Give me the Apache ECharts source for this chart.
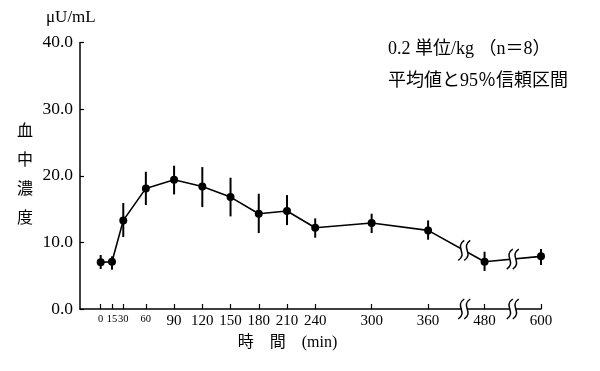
<!DOCTYPE html>
<html><head><meta charset="utf-8">
<script src="https://cdn.jsdelivr.net/npm/echarts@6/dist/echarts.min.js"></script>
<style>html,body{margin:0;padding:0;background:#fff}#c{width:600px;height:371px}</style>
</head><body><div id="c"></div>
<script>
// ---- data ----
const times = [0, 15, 30, 60, 90, 120, 150, 180, 210, 240, 300, 360, 480, 600];
const meanValues = [7.0, 7.1, 13.3, 18.1, 19.4, 18.4, 16.8, 14.3, 14.7, 12.2, 12.9, 11.8, 7.1, 7.9];
const ciLower = [6.0, 5.9, 10.8, 15.6, 17.2, 15.3, 13.9, 11.4, 12.6, 10.7, 11.4, 10.4, 5.7, 6.6];
const ciUpper = [8.1, 7.9, 15.9, 20.6, 21.5, 21.3, 19.7, 17.3, 17.1, 13.6, 14.3, 13.3, 8.6, 9.0];
const xTickLabels = ['0', '15', '30', '60', '90', '120', '150', '180', '210', '240', '300', '360', '480', '600'];
const smallLabels = ['0', '15', '30', '60'];
const yTicks = [0, 10, 20, 30, 40];

// broken time axis: first hour drawn compressed, two 60-min gaps removed after 360 and 480
function toAxis(t) {
  let a = t <= 60 ? t * 0.8 : t - 12;
  if (t > 360) a -= 60;
  if (t > 480) a -= 60;
  return a;
}
const axisVals = times.map(toAxis);
const labelOf = {};
axisVals.forEach((v, i) => { labelOf[v] = xTickLabels[i]; });

const lineData = times.map((t, i) => [axisVals[i], meanValues[i]]);
const barData = times.map((t, i) => [axisVals[i], ciLower[i], ciUpper[i]]);

// break marks (between 360/480 and 480/600)
function interp(x) {
  for (let i = 0; i < lineData.length - 1; i++) {
    const a = lineData[i], b = lineData[i + 1];
    if (x >= a[0] && x <= b[0]) return a[1] + (b[1] - a[1]) * (x - a[0]) / (b[0] - a[0]);
  }
  return 0;
}
const i360 = times.indexOf(360), i480 = times.indexOf(480), i600 = times.indexOf(600);
const b1 = axisVals[i360] + 0.64 * (axisVals[i480] - axisVals[i360]);
const b2 = axisVals[i480] + 0.5 * (axisVals[i600] - axisVals[i480]);
const breakData = [[b1, interp(b1)], [b2, interp(b2)], [b1, 0], [b2, 0]];

const SERIF = '"Liberation Serif", "Noto Sans CJK JP", serif';
const CJK = '"Liberation Serif", "Noto Sans CJK JP", sans-serif';

const chart = echarts.init(document.getElementById('c'), null, { renderer: 'canvas' });
chart.setOption({
  animation: false,
  backgroundColor: '#fff',
  grid: { left: 80, right: 59, top: 42.5, bottom: 62, containLabel: false, outerBoundsMode: 'none' },
  xAxis: {
    type: 'value', min: -22, max: 468,
    name: '時　間　(min)', nameLocation: 'middle', nameGap: 26,
    nameTextStyle: { fontFamily: CJK, fontSize: 16, color: '#000', padding: [0, 46, 0, 0] },
    axisLine: { show: true, onZero: false, lineStyle: { color: '#000', width: 1.5 } },
    axisTick: { show: true, inside: true, length: 5, customValues: axisVals, lineStyle: { color: '#000', width: 1.2 } },
    axisLabel: {
      show: true, customValues: axisVals, margin: 5, color: '#000', fontFamily: SERIF, fontSize: 15,
      formatter: v => { const s = labelOf[v]; return smallLabels.includes(s) ? '{s|' + s + '}' : s; },
      rich: { s: { fontFamily: SERIF, fontSize: 10.5, color: '#000' } }
    },
    splitLine: { show: false }
  },
  yAxis: {
    type: 'value', min: 0, max: 40, interval: 10,
    name: '血\n中\n濃\n度', nameLocation: 'middle', nameRotate: 0, nameGap: 47,
    nameTextStyle: { fontFamily: CJK, fontSize: 16, color: '#000', lineHeight: 29, padding: [12, 0, 0, 0] },
    axisLine: { show: true, onZero: false, lineStyle: { color: '#000', width: 1.5 } },
    axisTick: { show: true, inside: true, length: 4, lineStyle: { color: '#000', width: 1.2 } },
    axisLabel: { show: true, margin: 7, color: '#000', fontFamily: SERIF, fontSize: 17.5, formatter: v => v.toFixed(1) },
    splitLine: { show: false }
  },
  graphic: [
    { type: 'text', left: 46, top: 9, style: { text: 'μU/mL', fontFamily: SERIF, fontSize: 17, fill: '#000' } },
    { type: 'text', left: 388, top: 40, style: { text: '0.2 単位/kg （n＝8）', fontFamily: CJK, fontSize: 18, fill: '#000' } },
    { type: 'text', left: 388, top: 72, style: { text: '平均値と95％信頼区間', fontFamily: CJK, fontSize: 18, fill: '#000' } }
  ],
  series: [
    {
      type: 'custom', z: 3, data: barData, clip: false,
      renderItem: (params, api) => {
        const x = api.value(0);
        const lo = api.coord([x, api.value(1)]), hi = api.coord([x, api.value(2)]);
        return { type: 'line', shape: { x1: lo[0], y1: lo[1], x2: hi[0], y2: hi[1] }, style: { stroke: '#000', lineWidth: 2 } };
      }
    },
    {
      type: 'line', z: 4, data: lineData, symbol: 'circle', symbolSize: 8,
      lineStyle: { color: '#000', width: 1.6 }, itemStyle: { color: '#000' }
    },
    {
      type: 'custom', z: 10, data: breakData, clip: false,
      renderItem: (params, api) => {
        const p = api.coord([api.value(0), api.value(1)]);
        const h = 20, cx = p[0], cy = p[1];
        const curve = d => ({
          type: 'bezierCurve',
          shape: { x1: cx + d + 3, y1: cy - h / 2, cpx1: cx + d - 7, cpy1: cy - h / 6, cpx2: cx + d + 7, cpy2: cy + h / 6, x2: cx + d - 3, y2: cy + h / 2 },
          style: { stroke: '#000', lineWidth: 1.5, fill: null }
        });
        return {
          type: 'group', children: [
            { type: 'rect', shape: { x: cx - 3, y: cy - 6, width: 6, height: 12 }, style: { fill: '#fff' } },
            curve(-3), curve(3)
          ]
        };
      }
    }
  ]
});
</script></body></html>
